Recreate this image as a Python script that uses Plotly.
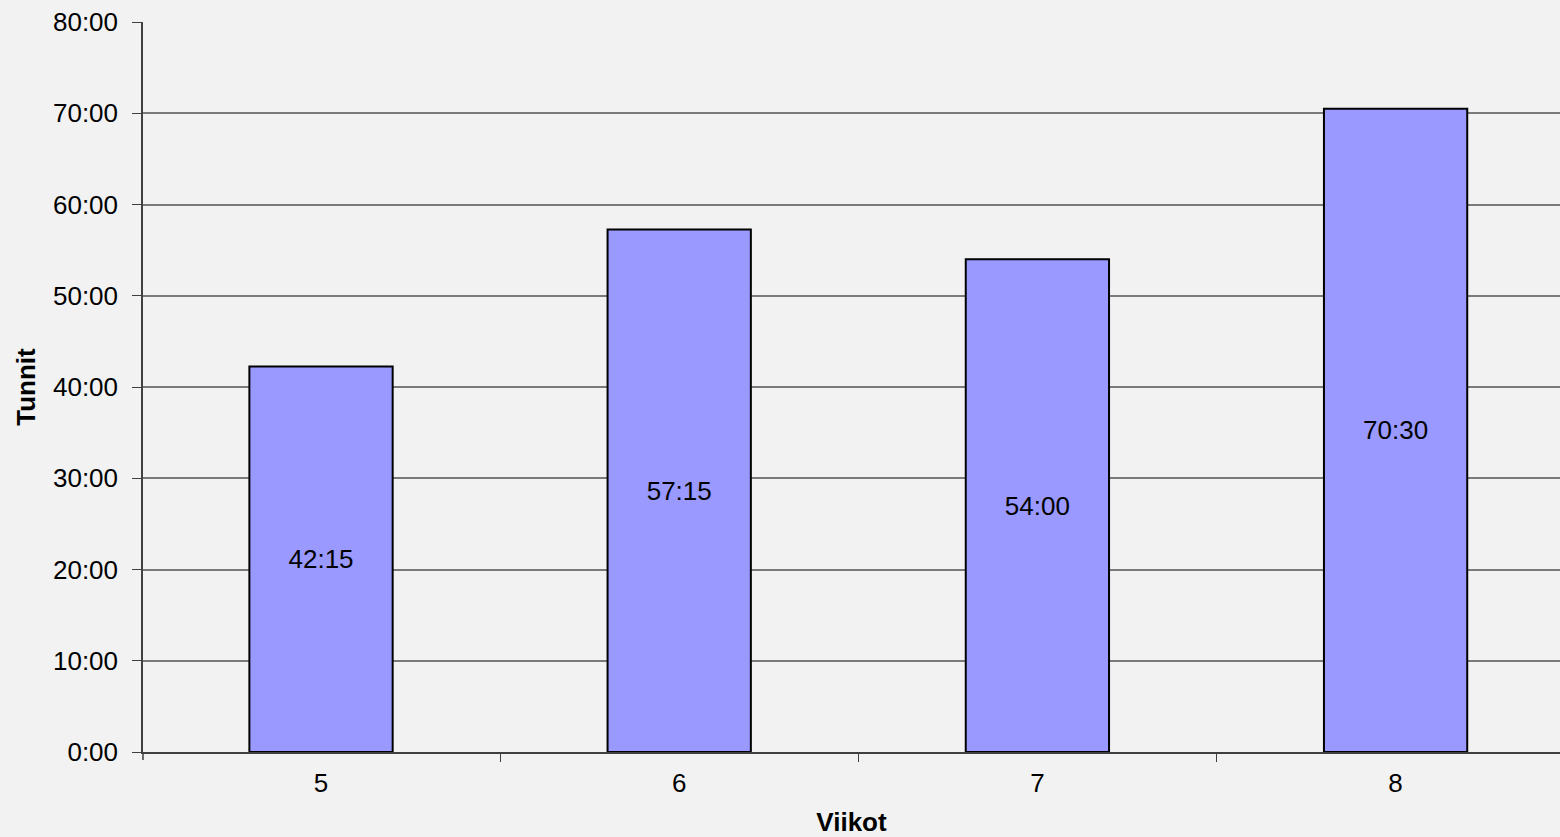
import plotly.graph_objects as go

weeks = ["5", "6", "7", "8"]
hours = [42.25, 57.25, 54.0, 70.5]
hour_labels = ["42:15", "57:15", "54:00", "70:30"]
ytick_vals = [0, 10, 20, 30, 40, 50, 60, 70, 80]
ytick_text = ["0:00", "10:00", "20:00", "30:00", "40:00", "50:00", "60:00", "70:00", "80:00"]

FONT = "Liberation Sans, Arial, sans-serif"

fig = go.Figure(go.Bar(
    x=weeks, y=hours, text=hour_labels,
    textposition="inside", insidetextanchor="middle", textangle=0,
    textfont=dict(family=FONT, size=26, color="#000000"),
    marker=dict(color="#9999FF", line=dict(color="#000000", width=2)),
    hoverinfo="skip",
))

fig.update_layout(
    width=1560, height=837,
    margin=dict(l=143, r=0, t=22, b=85, autoexpand=False),
    paper_bgcolor="#F2F2F2", plot_bgcolor="#F2F2F2",
    bargap=0.6, showlegend=False,
    font=dict(family=FONT, size=26, color="#000000"),
    uniformtext=dict(minsize=26, mode="show"),
    shapes=[dict(type="line", xref="paper", yref="paper", x0=0, x1=0, y0=0, y1=-0.011,
                 line=dict(color="#404040", width=1.5))],
)
fig.update_xaxes(
    type="category", range=[-0.497, 3.459],
    tickson="boundaries", ticks="outside", ticklen=8, tickcolor="#404040",
    showline=True, linecolor="#404040", linewidth=1.5,
    showgrid=False, zeroline=False,
    tickfont=dict(size=26), ticklabelstandoff=7,
    title=dict(text="<b>Viikot</b>", font=dict(size=26), standoff=16),
    automargin=False,
)
fig.update_yaxes(
    range=[0, 80], tickvals=ytick_vals, ticktext=ytick_text,
    ticks="outside", ticklen=9, tickcolor="#404040",
    showline=True, linecolor="#404040", linewidth=1.5,
    showgrid=True, gridcolor="#7a7a7a", gridwidth=1.5,
    zeroline=False,
    tickfont=dict(size=26), ticklabelstandoff=9,
    title=dict(text="<b>Tunnit</b>", font=dict(size=26), standoff=10),
    automargin=False,
)

fig.write_html(
    "out.html",
    config={"displayModeBar": False},
    post_script="document.body.style.margin='0';document.body.style.background='#F2F2F2';document.body.style.overflow='hidden';",
)
